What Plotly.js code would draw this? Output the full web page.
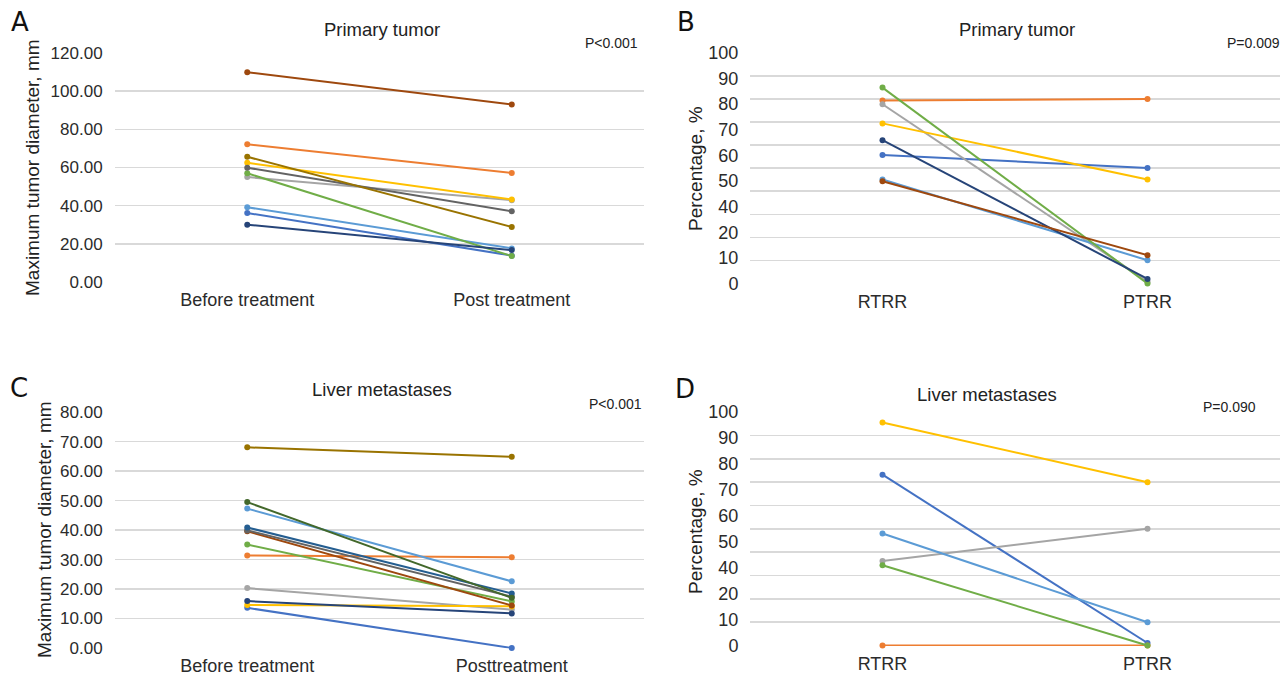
<!DOCTYPE html>
<html>
<head>
<meta charset="utf-8">
<script src="https://cdn.plot.ly/plotly-3.0.1.min.js"></script>
<style>html,body{margin:0;padding:0;background:#fff;}#chart{width:1285px;height:675px;}</style>
</head>
<body>
<div id="chart"></div>
<script>
// ---------- Data ----------
const catsTreat = ["Before treatment", "Post treatment"];
const catsTreatC = ["Before treatment", "Posttreatment"];
const catsRR = ["RTRR", "PTRR"];

const colors = {
  blue: "#4472C4", orange: "#ED7D31", gray: "#A5A5A5", yellow: "#FFC000",
  lightblue: "#5B9BD5", green: "#70AD47", darkblue: "#264478", darkred: "#9E480E",
  darkgray: "#636363", brown: "#997300", steel: "#255E91", darkgreen: "#43682B"
};

// Panel A: primary tumor diameter (mm)
const A_blue = [36.2, 13.9];
const A_orange = [72.1, 57.1];
const A_gray = [55.0, 42.9];
const A_yellow = [62.5, 43.3];
const A_lightblue = [39.2, 17.7];
const A_green = [57.0, 13.7];
const A_darkblue = [30.1, 16.8];
const A_darkred = [109.8, 93.0];
const A_darkgray = [59.9, 37.1];
const A_brown = [65.6, 28.9];

// Panel B: primary tumor percentage
const B_blue = [55.7, 50.1];
const B_orange = [79.3, 80.0];
const B_gray = [77.7, 0.8];
const B_yellow = [69.4, 45.1];
const B_lightblue = [45.1, 10.1];
const B_green = [84.9, 0.0];
const B_darkblue = [62.1, 2.0];
const B_darkred = [44.3, 12.3];

// Panel C: liver metastases diameter (mm)
const C_blue = [13.6, 0.0];
const C_orange = [31.4, 30.8];
const C_gray = [20.3, 13.0];
const C_yellow = [14.6, 14.1];
const C_lightblue = [47.3, 22.6];
const C_green = [35.1, 15.8];
const C_darkblue = [15.9, 11.7];
const C_darkred = [39.6, 14.4];
const C_darkgray = [39.9, 17.4];
const C_brown = [68.1, 64.9];
const C_steel = [40.9, 18.5];
const C_darkgreen = [49.5, 17.0];

// Panel D: liver metastases percentage
const D_blue = [73.2, 1.1];
const D_orange = [0.0, 0.0];
const D_gray = [36.2, 50.0];
const D_yellow = [95.6, 70.0];
const D_lightblue = [48.0, 10.0];
const D_green = [34.4, 0.0];

// Tick labels of the percentage panels (as printed, 30 omitted)
const pctLabels = ["0", "10", "20", "40", "50", "60", "70", "80", "90", "100"];

// ---------- Build traces ----------
function tr(x, y, color, ax) {
  return {
    x: x, y: y, type: "scatter", mode: "lines+markers",
    line: {color: color, width: 2},
    marker: {color: color, size: 6},
    xaxis: "x" + (ax === 1 ? "" : ax), yaxis: "y" + (ax === 1 ? "" : ax),
    cliponaxis: false, showlegend: false, hoverinfo: "y"
  };
}
function labelCarrier(xa, ya) {
  return {x: catsRR, y: [null, null], type: "scatter", mode: "markers",
          xaxis: xa, yaxis: ya, showlegend: false, hoverinfo: "skip"};
}
const traces = [
  tr(catsTreat, A_blue, colors.blue, 1),
  tr(catsTreat, A_orange, colors.orange, 1),
  tr(catsTreat, A_gray, colors.gray, 1),
  tr(catsTreat, A_yellow, colors.yellow, 1),
  tr(catsTreat, A_lightblue, colors.lightblue, 1),
  tr(catsTreat, A_green, colors.green, 1),
  tr(catsTreat, A_darkblue, colors.darkblue, 1),
  tr(catsTreat, A_darkred, colors.darkred, 1),
  tr(catsTreat, A_darkgray, colors.darkgray, 1),
  tr(catsTreat, A_brown, colors.brown, 1),

  tr(catsRR, B_blue, colors.blue, 2),
  tr(catsRR, B_orange, colors.orange, 2),
  tr(catsRR, B_gray, colors.gray, 2),
  tr(catsRR, B_yellow, colors.yellow, 2),
  tr(catsRR, B_lightblue, colors.lightblue, 2),
  tr(catsRR, B_green, colors.green, 2),
  tr(catsRR, B_darkblue, colors.darkblue, 2),
  tr(catsRR, B_darkred, colors.darkred, 2),

  tr(catsTreatC, C_blue, colors.blue, 3),
  tr(catsTreatC, C_orange, colors.orange, 3),
  tr(catsTreatC, C_gray, colors.gray, 3),
  tr(catsTreatC, C_yellow, colors.yellow, 3),
  tr(catsTreatC, C_lightblue, colors.lightblue, 3),
  tr(catsTreatC, C_green, colors.green, 3),
  tr(catsTreatC, C_darkblue, colors.darkblue, 3),
  tr(catsTreatC, C_darkred, colors.darkred, 3),
  tr(catsTreatC, C_darkgray, colors.darkgray, 3),
  tr(catsTreatC, C_brown, colors.brown, 3),
  tr(catsTreatC, C_steel, colors.steel, 3),
  tr(catsTreatC, C_darkgreen, colors.darkgreen, 3),

  tr(catsRR, D_blue, colors.blue, 4),
  tr(catsRR, D_orange, colors.orange, 4),
  tr(catsRR, D_gray, colors.gray, 4),
  tr(catsRR, D_yellow, colors.yellow, 4),
  tr(catsRR, D_lightblue, colors.lightblue, 4),
  tr(catsRR, D_green, colors.green, 4),

  labelCarrier("x2", "y5"),
  labelCarrier("x4", "y6")
];

// ---------- Layout ----------
const W = 1285, H = 675;
const px = v => v / W;
const py = v => 1 - v / H;
const FONT = "Liberation Sans, Arial, sans-serif";
const tickFont = {family: FONT, size: 17, color: "#2b2b2b"};
const GRID = "#D9D9D9";

function xax(domain, anchor) {
  return {
    domain: domain, anchor: anchor, type: "category", range: [-0.5, 1.5],
    showgrid: false, zeroline: false, showline: false,
    ticks: "outside", ticklen: 1, tickcolor: "rgba(0,0,0,0)",
    tickfont: {family: FONT, size: 18, color: "#2b2b2b"}, fixedrange: true
  };
}
function yax(domain, anchor, range, dtick, fmt, showLabels) {
  return {
    domain: domain, anchor: anchor, range: range, dtick: dtick, tick0: 0,
    tickformat: fmt, showgrid: true, gridcolor: GRID, gridwidth: 1.5,
    zeroline: false, showline: false, showticklabels: showLabels,
    ticks: "outside", ticklen: 8, tickcolor: "rgba(0,0,0,0)",
    tickfont: tickFont, fixedrange: true
  };
}
function labelAx(over, anchor, range) {
  return {
    overlaying: over, anchor: anchor, range: range,
    tickmode: "array", tickvals: labelPos, ticktext: pctLabels,
    showgrid: false, zeroline: false, showline: false,
    ticks: "outside", ticklen: 7, tickcolor: "rgba(0,0,0,0)",
    tickfont: {family: FONT, size: 18, color: "#2b2b2b"}, fixedrange: true
  };
}
const labelPos = pctLabels.map((_, i) => i * 100 / (pctLabels.length - 1));

const xA = [px(115), px(644)], yA = [py(282.7), py(52.3)];
const xB = [px(750), px(1280)], yB = [py(284), py(52.3)];
const xC = [px(115), px(644)], yC = [py(648.5), py(411.7)];
const xD = [px(750), px(1280)], yD = [py(646), py(411.7)];

function ann(text, x, y, size, opts) {
  return Object.assign({
    text: text, x: px(x), y: py(y), xref: "paper", yref: "paper",
    showarrow: false, font: {family: FONT, size: size, color: "#222222"},
    xanchor: "center", yanchor: "middle"
  }, opts || {});
}
const letterFont = {family: "DejaVu Sans, sans-serif", size: 26, color: "#111"};

const layout = {
  width: W, height: H,
  margin: {l: 0, r: 0, t: 0, b: 0},
  paper_bgcolor: "#ffffff", plot_bgcolor: "#ffffff",
  showlegend: false,
  xaxis: xax(xA, "y"),
  yaxis: yax(yA, "x", [-0.25, 120.25], 20, ".2f", true),
  xaxis2: xax(xB, "y2"),
  yaxis2: yax(yB, "x2", [-0.2, 100.2], 10, "", false),
  xaxis3: xax(xC, "y3"),
  yaxis3: yax(yC, "x3", [-0.2, 80.2], 10, ".2f", true),
  xaxis4: xax(xD, "y4"),
  yaxis4: yax(yD, "x4", [-0.2, 100.2], 10, "", false),
  yaxis5: labelAx("y2", "x2", [-0.2, 100.2]),
  yaxis6: labelAx("y4", "x4", [-0.2, 100.2]),
  annotations: [
    ann("A", 20, 22, 26, {font: letterFont}),
    ann("B", 686, 22, 26, {font: letterFont}),
    ann("C", 19, 388, 26, {font: letterFont}),
    ann("D", 685, 389, 26, {font: letterFont}),
    ann("Primary tumor", 382, 30, 18.5),
    ann("Primary tumor", 1017, 30, 18.5),
    ann("Liver metastases", 382, 390, 18.5),
    ann("Liver metastases", 987, 395, 18.5),
    ann("P<0.001", 640, 43, 14, {xanchor: "right"}),
    ann("P=0.009", 1282, 43, 14, {xanchor: "right"}),
    ann("P<0.001", 644, 404, 14, {xanchor: "right"}),
    ann("P=0.090", 1258, 407, 14, {xanchor: "right"}),
    ann("Maximum tumor diameter, mm", 32, 168, 19, {textangle: -90}),
    ann("Percentage, %", 695, 169, 19, {textangle: -90}),
    ann("Maximum tumor diameter, mm", 44, 530, 19, {textangle: -90}),
    ann("Percentage, %", 695, 532, 19, {textangle: -90})
  ]
};

Plotly.newPlot("chart", traces, layout, {displayModeBar: false, staticPlot: true});
</script>
</body>
</html>
